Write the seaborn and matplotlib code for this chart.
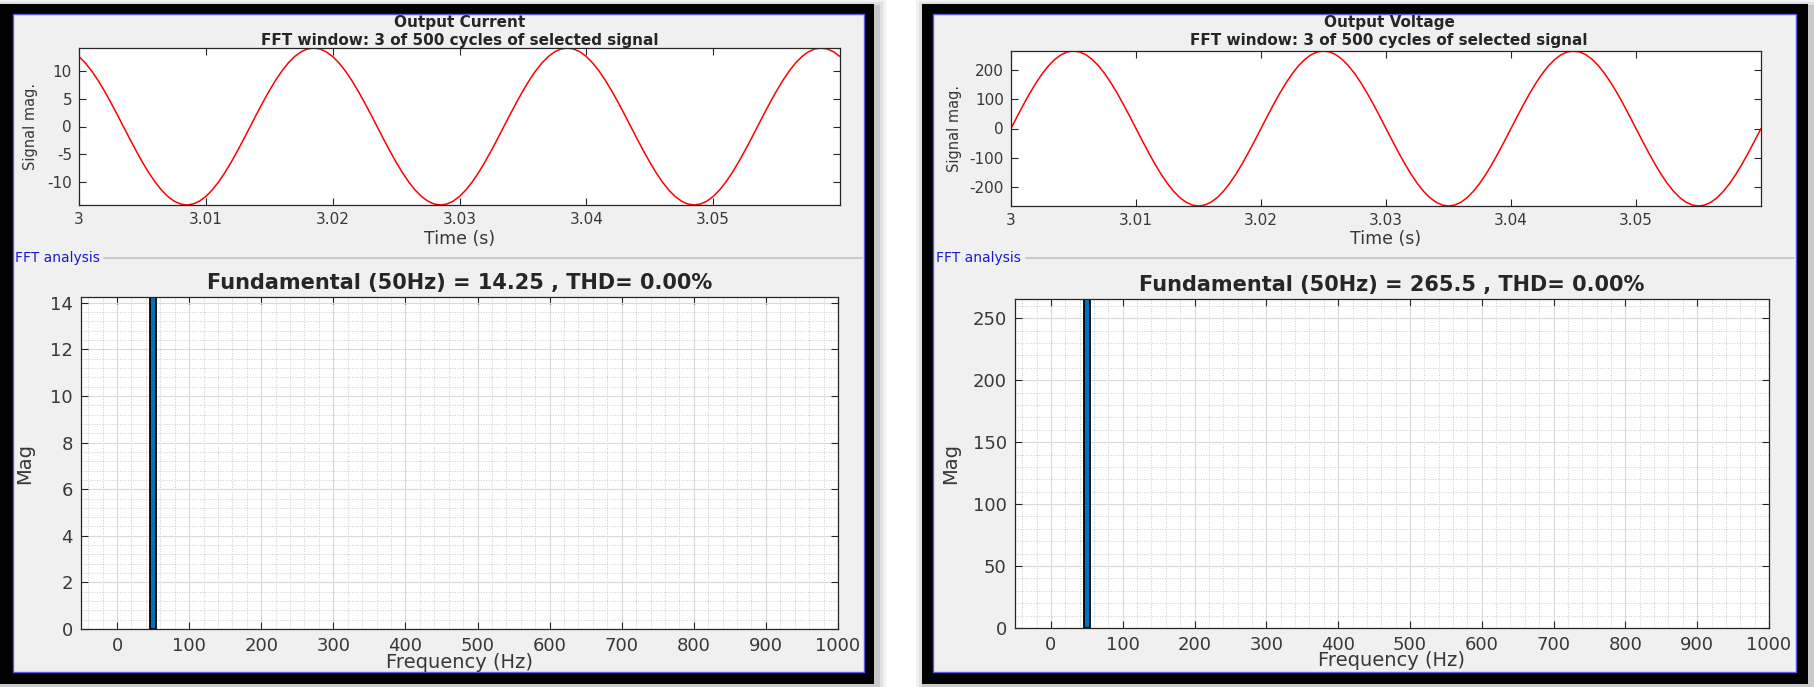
import numpy as np
import pandas as pd
import matplotlib.pyplot as plt
import seaborn as sns
from matplotlib.patches import Rectangle
from matplotlib.lines import Line2D
from matplotlib.ticker import MultipleLocator, FuncFormatter

# --- data ---
# sample times of the 3-cycle FFT window (s), one sample every 0.5 ms
waktu = np.round(np.arange(3.0, 3.06001, 0.0005), 4)

# output current (A)
arus = [
    12.70, 11.53, 10.08, 8.38, 6.47, 4.40, 2.23, 0.00, -2.23, -4.40,
    -6.47, -8.38, -10.08, -11.53, -12.70, -13.55, -14.07, -14.25, -14.07, -13.55,
    -12.70, -11.53, -10.08, -8.38, -6.47, -4.40, -2.23, 0.00, 2.23, 4.40,
    6.47, 8.38, 10.08, 11.53, 12.70, 13.55, 14.07, 14.25, 14.07, 13.55,
    12.70, 11.53, 10.08, 8.38, 6.47, 4.40, 2.23, 0.00, -2.23, -4.40,
    -6.47, -8.38, -10.08, -11.53, -12.70, -13.55, -14.07, -14.25, -14.07, -13.55,
    -12.70, -11.53, -10.08, -8.38, -6.47, -4.40, -2.23, 0.00, 2.23, 4.40,
    6.47, 8.38, 10.08, 11.53, 12.70, 13.55, 14.07, 14.25, 14.07, 13.55,
    12.70, 11.53, 10.08, 8.38, 6.47, 4.40, 2.23, 0.00, -2.23, -4.40,
    -6.47, -8.38, -10.08, -11.53, -12.70, -13.55, -14.07, -14.25, -14.07, -13.55,
    -12.70, -11.53, -10.08, -8.38, -6.47, -4.40, -2.23, 0.00, 2.23, 4.40,
    6.47, 8.38, 10.08, 11.53, 12.70, 13.55, 14.07, 14.25, 14.07, 13.55,
    12.70,
]

# output voltage (V)
tegangan = [
    0.0, 41.5, 82.0, 120.5, 156.1, 187.7, 214.8, 236.6, 252.5, 262.2,
    265.5, 262.2, 252.5, 236.6, 214.8, 187.7, 156.1, 120.5, 82.0, 41.5,
    0.0, -41.5, -82.0, -120.5, -156.1, -187.7, -214.8, -236.6, -252.5, -262.2,
    -265.5, -262.2, -252.5, -236.6, -214.8, -187.7, -156.1, -120.5, -82.0, -41.5,
    0.0, 41.5, 82.0, 120.5, 156.1, 187.7, 214.8, 236.6, 252.5, 262.2,
    265.5, 262.2, 252.5, 236.6, 214.8, 187.7, 156.1, 120.5, 82.0, 41.5,
    0.0, -41.5, -82.0, -120.5, -156.1, -187.7, -214.8, -236.6, -252.5, -262.2,
    -265.5, -262.2, -252.5, -236.6, -214.8, -187.7, -156.1, -120.5, -82.0, -41.5,
    0.0, 41.5, 82.0, 120.5, 156.1, 187.7, 214.8, 236.6, 252.5, 262.2,
    265.5, 262.2, 252.5, 236.6, 214.8, 187.7, 156.1, 120.5, 82.0, 41.5,
    0.0, -41.5, -82.0, -120.5, -156.1, -187.7, -214.8, -236.6, -252.5, -262.2,
    -265.5, -262.2, -252.5, -236.6, -214.8, -187.7, -156.1, -120.5, -82.0, -41.5,
    0.0,
]

# FFT spectrum: only the fundamental is non-zero
frek_fft = [50]
mag_arus = [14.25]
mag_tegangan = [265.5]

judul_sinyal = ['Output Current', 'Output Voltage']
judul_fft = ['Fundamental (50Hz) = 14.25 , THD= 0.00%',
             'Fundamental (50Hz) = 265.5 , THD= 0.00%']
jendela = 'FFT window: 3 of 500 cycles of selected signal'
xtick_waktu = [3, 3.01, 3.02, 3.03, 3.04, 3.05]

sns.set_style('white')
plt.rcParams['font.family'] = ['DejaVu Sans']
plt.rcParams['axes.unicode_minus'] = False

W, H = 1815, 687
fig = plt.figure(figsize=(W / 100, H / 100), dpi=100)
fig.patch.set_facecolor('white')


def kotak(x0, y0, x1, y1, **kw):
    # rectangle given in screenshot pixels (origin top-left)
    r = Rectangle((x0 / W, 1 - y1 / H), (x1 - x0) / W, (y1 - y0) / H,
                  transform=fig.transFigure, **kw)
    fig.add_artist(r)


def sumbu(x0, y0, x1, y1):
    return fig.add_axes([x0 / W, 1 - y1 / H, (x1 - x0) / W, (y1 - y0) / H])


def gaya(ax, tick_size, pad):
    ax.set_facecolor('white')
    for s in ax.spines.values():
        s.set_color('#262626')
        s.set_linewidth(0.9)
        s.set_visible(True)
    ax.tick_params(which='major', direction='in', top=True, right=True,
                   bottom=True, left=True, length=5, width=0.8,
                   color='#262626', labelcolor='#383838',
                   labelsize=tick_size, pad=pad)
    ax.tick_params(which='minor', length=0)


fmt = FuncFormatter(lambda v, p: f'{v:g}')

panel = [
    dict(frame=(0, 4, 874, 684), inner=(13, 14, 864, 672),
         top=(79, 48, 840, 205), bot=(81, 297, 838, 629),
         cx=459.5, sep_y=258, sep_x=(104, 862), fft_x=15,
         y=arus, mag=mag_arus, step=2, minor=0.4, ystep=5,
         ylab_top=-0.064, ylab_bot=-0.074),
    dict(frame=(922, 4, 1808, 684), inner=(933, 14, 1796, 672),
         top=(1011, 51, 1761, 206), bot=(1015, 299, 1769, 628),
         cx=1389, sep_y=258, sep_x=(1026, 1794), fft_x=936,
         y=tegangan, mag=mag_tegangan, step=50, minor=10, ystep=100,
         ylab_top=-0.076, ylab_bot=-0.086),
]

for i, p in enumerate(panel):
    x0, y0, x1, y1 = p['frame']
    # soft shadow, black frame, grey MATLAB panel with blue border
    for k, a in [(9, 0.05), (6, 0.07), (3, 0.10)]:
        kotak(x0 - k + 3, y0 - k + 4, x1 + k + 3, y1 + k + 4,
              facecolor='black', edgecolor='none', alpha=a, zorder=-20)
    kotak(x0, y0, x1, y1, facecolor='black', edgecolor='none', zorder=-15)
    ix0, iy0, ix1, iy1 = p['inner']
    kotak(ix0, iy0, ix1, iy1, facecolor='#F0F0F0', edgecolor='#5A5AE0',
          linewidth=1.0, zorder=-10)

    # top: time signal
    ax = sumbu(*p['top'])
    sns.lineplot(x=waktu, y=p['y'], ax=ax, color='#FF0000', linewidth=1.1)
    ax.set_xlim(waktu[0], waktu[-1])
    ax.set_ylim(min(p['y']), max(p['y']))
    ax.set_xticks(xtick_waktu)
    ax.yaxis.set_major_locator(MultipleLocator(p['ystep']))
    ax.xaxis.set_major_formatter(fmt)
    ax.yaxis.set_major_formatter(fmt)
    gaya(ax, 11, 5)
    ax.set_xlabel('Time (s)', fontsize=12.5, color='#383838', va='center')
    ax.xaxis.set_label_coords(0.5, -0.215)
    ax.set_ylabel('Signal mag.', fontsize=10.5, color='#383838', va='center')
    ax.yaxis.set_label_coords(p['ylab_top'], 0.5)

    fig.text(p['cx'] / W, 1 - 23 / H, judul_sinyal[i], ha='center',
             va='center', fontsize=11, fontweight='bold')
    fig.text(p['cx'] / W, 1 - 41 / H, jendela, ha='center', va='center',
             fontsize=11, fontweight='bold')

    # "FFT analysis" group label and separator
    fig.text(p['fft_x'] / W, 1 - p['sep_y'] / H, 'FFT analysis',
             color='#1a1ad0', fontsize=10, ha='left', va='center')
    sx0, sx1 = p['sep_x']
    fig.add_artist(Line2D([sx0 / W, sx1 / W],
                          [1 - p['sep_y'] / H, 1 - p['sep_y'] / H],
                          transform=fig.transFigure, color='#C8C8C8', lw=1.3))

    # bottom: FFT spectrum
    ax2 = sumbu(*p['bot'])
    df = pd.DataFrame({'Frequency': frek_fft, 'Mag': p['mag']})
    sns.barplot(data=df, x='Frequency', y='Mag', ax=ax2, native_scale=True,
                width=8, color='#0072BD', saturation=1, edgecolor='black',
                linewidth=1.3, errorbar=None)
    ax2.set_xlim(-50, 1000)
    ax2.set_ylim(0, p['mag'][0])
    ax2.xaxis.set_major_locator(MultipleLocator(100))
    ax2.xaxis.set_minor_locator(MultipleLocator(20))
    ax2.yaxis.set_major_locator(MultipleLocator(p['step']))
    ax2.yaxis.set_minor_locator(MultipleLocator(p['minor']))
    ax2.xaxis.set_major_formatter(fmt)
    ax2.yaxis.set_major_formatter(fmt)
    ax2.set_axisbelow(True)
    ax2.grid(which='major', color='#DADADA', linestyle='-', linewidth=0.8)
    ax2.grid(which='minor', color='#CACACA', linestyle=':', linewidth=0.7)
    gaya(ax2, 13, 6)
    ax2.set_xlabel('Frequency (Hz)', fontsize=14, color='#383838', va='center')
    ax2.xaxis.set_label_coords(0.5, -0.1)
    ax2.set_ylabel('Mag', fontsize=14, color='#383838', va='center')
    ax2.yaxis.set_label_coords(p['ylab_bot'], 0.5)
    ax2.set_title(judul_fft[i], fontsize=15, fontweight='bold', pad=6)

fig.savefig('out.png', dpi=100)
